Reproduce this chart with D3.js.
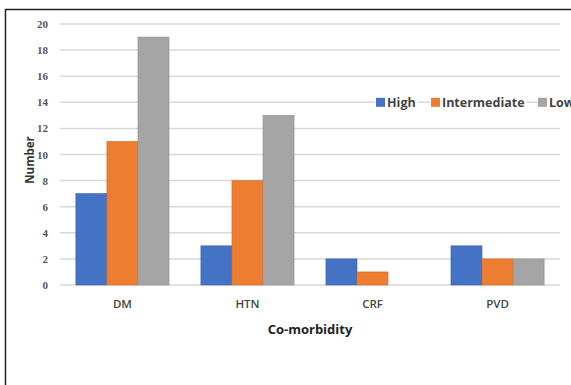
<!DOCTYPE html>
<html><head><meta charset="utf-8">
<script src="https://cdn.jsdelivr.net/npm/d3@7"></script>
<style>body{margin:0;background:#fff}svg{display:block}</style>
</head><body>
<script>
const categories = ["DM", "HTN", "CRF", "PVD"];
const seriesNames = ["High", "Intermediate", "Low"];
const high = [7, 3, 2, 3];
const intermediate = [11, 8, 1, 2];
const low = [19, 13, 0, 2];
const yTicks = [0, 2, 4, 6, 8, 10, 12, 14, 16, 18, 20];
const colors = ["#4472C4", "#ED7D31", "#A5A5A5"];
const seriesValues = [high, intermediate, low];

const W = 571, H = 385;
const svg = d3.select("body").append("svg").attr("width", W).attr("height", H);

// frame lines
svg.append("line").attr("x1", 5).attr("x2", W).attr("y1", 9.5).attr("y2", 9.5).attr("stroke", "#222").attr("stroke-width", 1.5);
svg.append("line").attr("x1", 5.5).attr("x2", 5.5).attr("y1", 9).attr("y2", H).attr("stroke", "#222").attr("stroke-width", 1.5);

const x0 = d3.scaleBand().domain(categories).range([60, 560]).paddingInner(0.255).paddingOuter(0.127);
const x1 = d3.scaleBand().domain(seriesNames).range([0, x0.bandwidth()]);
const y = d3.scaleLinear().domain([0, 20]).range([285, 24]);

// gridlines
svg.append("g").selectAll("line").data(yTicks).join("line")
  .attr("x1", 60).attr("x2", 560)
  .attr("y1", d => y(d)).attr("y2", d => y(d))
  .attr("stroke", "#d9d9d9").attr("stroke-width", 1.5);

// y axis labels
const yAxis = d3.axisLeft(y).tickValues(yTicks).tickSize(0).tickPadding(0);
const ya = svg.append("g").attr("transform", "translate(48,0)").call(yAxis);
ya.select(".domain").remove();
ya.selectAll("text").attr("font-family", "Liberation Serif").attr("font-weight", "bold")
  .attr("font-size", 11).attr("fill", "#555");

// bars
const groups = svg.append("g").selectAll("g").data(categories).join("g")
  .attr("transform", d => `translate(${x0(d)},0)`);
groups.selectAll("rect").data((c, i) => seriesNames.map((s, j) => ({s, j, v: seriesValues[j][i]})))
  .join("rect")
  .attr("x", d => x1(d.s)).attr("width", x1.bandwidth())
  .attr("y", d => y(d.v)).attr("height", d => y(0) - y(d.v))
  .attr("fill", d => colors[d.j])
  .attr("stroke", d => d3.color(colors[d.j]).darker(0.4)).attr("stroke-width", 0.6);

// x axis labels
const xAxis = d3.axisBottom(x0).tickSize(0).tickPadding(0);
const xa = svg.append("g").attr("transform", "translate(0,300)").call(xAxis);
xa.select(".domain").remove();
xa.selectAll("text").attr("font-family", "Open Sans").attr("font-weight", 600).attr("font-size", 11.5).attr("fill", "#444").attr("dy", "0.7em");

// axis titles
svg.append("text").attr("x", 310).attr("y", 334).attr("text-anchor", "middle")
  .attr("font-family", "Open Sans").attr("font-weight", "bold").attr("font-size", 13).attr("fill", "#222")
  .text("Co-morbidity");
svg.append("text").attr("transform", "translate(34,160) rotate(-90)").attr("text-anchor", "middle")
  .attr("font-family", "Open Sans").attr("font-weight", "bold").attr("font-size", 11.5).attr("fill", "#333")
  .text("Number");

// legend
const legendX = [376, 431, 538];
const lg = svg.append("g").selectAll("g").data(seriesNames).join("g")
  .attr("transform", (d, i) => `translate(${legendX[i]},${y(14)})`);
lg.append("rect").attr("x", -1).attr("y", -8).attr("width", 0).attr("height", 16).attr("fill", "#fff").attr("class", "bg");
lg.append("rect").attr("x", 0).attr("y", -4.5).attr("width", 9).attr("height", 9).attr("fill", (d, i) => colors[i]);
lg.append("text").attr("x", 11).attr("y", 0).attr("dy", "0.35em")
  .attr("font-family", "Open Sans").attr("font-weight", "bold").attr("font-size", 12.5).attr("fill", "#444")
  .text(d => d);
lg.each(function() {
  const g = d3.select(this);
  const w = g.select("text").node().getComputedTextLength();
  g.select(".bg").attr("width", w + 14);
});
</script>
</body></html>
